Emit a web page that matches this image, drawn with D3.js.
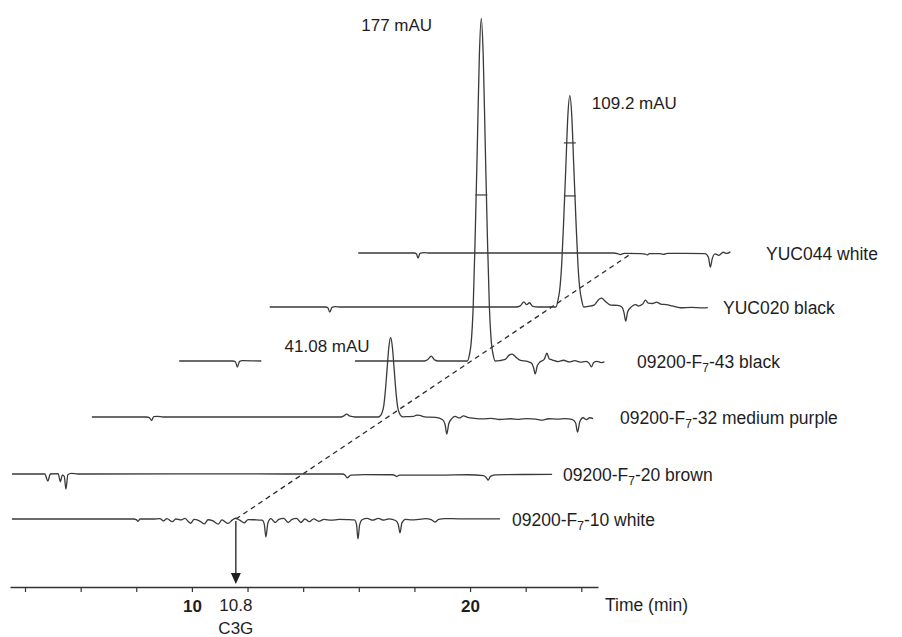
<!DOCTYPE html>
<html>
<head>
<meta charset="utf-8">
<script src="https://cdn.jsdelivr.net/npm/d3@7"></script>
<style>
  html, body { margin: 0; padding: 0; background: #fff; }
  svg { display: block; font-family: Arial, "Liberation Sans", sans-serif; }
  .trace { fill: none; stroke: #3a3a3a; stroke-width: 1.3; stroke-linejoin: round; }
  .label { font-size: 17px; fill: #1e1e1e; }
  .name { font-size: 17.5px; fill: #1e1e1e; }
</style>
</head>
<body>
<svg id="chart" width="902" height="637"></svg>
<script>
// Sample names, bottom trace first.
const sampleNames = [
  '09200-F7-10 white',
  '09200-F7-20 brown',
  '09200-F7-32 medium purple',
  '09200-F7-43 black',
  'YUC020 black',
  'YUC044 white'
];

// Each trace: [time (min), absorbance (mAU)], null = gap in the record.
const traceF7_10 = [
  [3.53, 0], [7.9, 0], [8.0, -0.3], [8.06, -1.2], [8.14, 0], [8.6, 0], [8.85, 0.2], [8.98, -1.0],
  [9.1, 0.2], [9.3, -1.4], [9.42, 0], [9.6, -0.5], [9.75, 0.3], [9.95, -2.2], [10.08, -0.2],
  [10.25, -0.8], [10.45, -2.5], [10.58, -0.4], [10.76, -1.0], [10.95, -2.6], [11.08, -0.5],
  [11.3, -2.3], [11.45, -0.6], [11.58, 0.4], [11.72, -0.6], [11.88, -2.0], [12.02, -0.3],
  [12.25, -0.4], [12.52, -0.6], [12.6, -2.5], [12.66, -9.3], [12.73, -2.2], [12.84, 0.2],
  [13.0, -1.8], [13.12, -0.2], [13.3, 0.3], [13.46, -1.8], [13.6, -0.2], [13.76, 0.3],
  [13.92, -1.8], [14.06, 0], [14.22, -1.4], [14.38, 0.1], [14.56, -1.2], [14.75, -0.2],
  [15.0, -0.6], [15.3, -0.2], [15.6, -0.3], [15.84, -0.5], [15.92, -3.0], [15.97, -10.3],
  [16.03, -3.0], [16.12, -0.4], [16.3, 0.3], [16.5, -0.6], [16.7, 0.3], [16.9, -0.6],
  [17.1, 0.1], [17.32, -0.8], [17.42, -2.8], [17.48, -7.2], [17.55, -2.0], [17.68, -0.2],
  [17.9, -0.5], [18.15, -0.2], [18.4, 0.2], [18.6, -0.3], [18.74, -1.6], [18.87, -0.2],
  [19.1, 0.2], [19.6, 0.1], [21.08, 0.1]
];

const traceF7_20 = [
  [1.12, 0], [2.3, 0], [2.41, -3.6], [2.5, 0], [2.78, 0.2], [2.86, -4.0], [2.93, -0.6],
  [3.0, -1.2], [3.06, -7.8], [3.13, -0.4], [3.25, 0.3], [3.5, 0], [8.0, 0.1], [11.0, 0],
  [13.0, 0], [13.1, -0.6], [13.17, -2.0], [13.3, -0.6], [13.8, -0.3], [14.8, -0.4],
  [14.9, -0.8], [14.96, -1.3], [15.05, -0.6], [16.5, -0.6], [17.5, -0.4], [18.08, -0.8],
  [18.18, -2.0], [18.24, -3.2], [18.32, -1.2], [18.5, -0.5], [18.9, -0.3], [20.54, -0.2]
];

const traceF7_32 = [
  [0.94, 0], [2.9, 0], [3.0, -0.3], [3.09, -1.8], [3.16, 0.2], [3.3, 0.3], [3.5, 0], [9.9, 0],
  [10.0, 0.6], [10.1, 1.5], [10.22, 0.4], [10.4, 0], [11.24, 0], [11.3, 0.5], [11.36, 1.8],
  [11.43, 5.5], [11.49, 13.4], [11.554, 25], [11.617, 36.2], [11.68, 41.08], [11.743, 36.2],
  [11.806, 25], [11.87, 13.4], [11.93, 5.5], [12.0, 1.8], [12.06, 0.5], [12.12, 0.1],
  [12.3, 0.2], [12.5, 0.3], [12.62, 1.0], [12.73, 0.8], [12.9, 0.1], [13.3, -0.2],
  [13.55, -1.4], [13.64, -4.0], [13.7, -8.8], [13.77, -3.5], [13.88, -0.8], [14.0, 0.3],
  [14.15, -0.5], [14.3, 0.6], [14.45, -0.2], [14.7, -0.7], [15.0, -1.0], [15.3, -0.7],
  [15.6, -1.3], [16.0, -0.9], [16.3, -1.2], [16.6, -0.8], [16.9, -1.1], [17.15, -1.6],
  [17.35, -0.9], [17.7, -1.1], [17.95, -0.8], [18.2, -1.2], [18.33, -3.0], [18.4, -7.8],
  [18.48, -2.5], [18.6, -0.4], [18.72, -1.4], [18.84, -0.4], [18.96, -0.8]
];

const traceF7_43 = [
  [1.08, 0], [3.0, 0], [3.1, -0.4], [3.17, -3.1], [3.25, -0.2], [3.35, 0.2], [4.03, 0],
  null,
  [7.4, 0], [9.9, 0], [10.02, 0.8], [10.14, 2.5], [10.26, 0.6], [10.4, 0], [11.44, 0],
  [11.51, 3], [11.58, 10], [11.65, 28.5], [11.72, 64], [11.8, 113], [11.87, 157.6],
  [11.94, 177], [12.01, 157.6], [12.08, 113], [12.16, 64], [12.23, 28.5], [12.3, 10],
  [12.37, 3], [12.44, 0], [12.6, 0.2], [12.8, 0.8], [12.95, 3.2], [13.05, 3.6], [13.18, 2.0],
  [13.35, 0.3], [13.6, -0.2], [13.75, -1.2], [13.82, -3.5], [13.88, -6.7], [13.95, -2.6],
  [14.05, -0.5], [14.2, 0.8], [14.3, 4.0], [14.38, 1.2], [14.5, 0.5], [14.7, -0.3],
  [14.9, 0.4], [15.1, -0.5], [15.3, 0.2], [15.5, -0.6], [15.7, -0.2], [15.82, -1.2],
  [15.9, -3.0], [15.98, -0.8], [16.1, -0.2], [16.25, -0.8], [16.37, -0.4]
];

const traceYUC020 = [
  [1.44, 0], [3.45, 0], [3.53, -0.4], [3.6, -2.6], [3.68, -0.2], [3.8, 0.2], [4.0, 0],
  [10.3, 0], [10.45, 0.6], [10.58, 2.6], [10.68, 1.2], [10.78, 2.2], [10.9, 0.3], [11.1, 0],
  [11.73, 0], [11.8, 3.3], [11.87, 9.3], [11.94, 22.5], [12.01, 44.9], [12.09, 73.6],
  [12.16, 98.9], [12.23, 109.2], [12.3, 98.9], [12.37, 73.6], [12.45, 44.9], [12.52, 22.5],
  [12.59, 9.3], [12.66, 3.3], [12.73, 0], [12.9, 0.3], [13.1, 1.0], [13.28, 4.0],
  [13.38, 4.6], [13.5, 3.0], [13.7, 1.0], [13.95, 0.8], [14.1, 0], [14.18, -3.0],
  [14.24, -7.3], [14.31, -2.5], [14.45, 0.2], [14.6, 1.2], [14.7, 0.5], [14.85, 1.5],
  [14.95, 3.6], [15.05, 2.0], [15.2, 1.8], [15.35, 2.5], [15.5, 1.5], [15.7, 1.2],
  [15.9, 0.6], [16.2, -0.4], [16.6, -0.2], [17.0, -0.5], [17.19, -0.3]
];

const traceYUC044 = [
  [1.73, 0], [3.75, 0], [3.82, -0.4], [3.88, -2.6], [3.95, -0.2], [4.1, 0.2], [4.3, 0],
  [10.9, 0], [11.05, -0.3], [11.15, -0.8], [11.3, -0.2], [11.9, -0.3], [12.05, -0.6],
  [12.12, -1.0], [12.2, -0.3], [12.55, -0.3], [12.7, -0.7], [12.85, -0.2], [13.5, -0.2],
  [14.2, -0.3], [14.32, -2.2], [14.39, -7.3], [14.46, -2.8], [14.56, -0.5], [14.7, -1.2],
  [14.85, 0.4], [14.98, -0.2], [15.11, 0.6]
];

const traces = [traceF7_10, traceF7_20, traceF7_32, traceF7_43, traceYUC020, traceYUC044];

// Labelled peak apexes: trace index, retention time, height.
const peakTrace = [3, 4, 2];
const peakTime = [11.94, 12.23, 11.68];
const peakHeight = [177, 109.2, 41.08];

// Integration marks drawn across the peaks.
const markTrace = [3, 4, 4];
const markTime = [11.94, 12.23, 12.23];
const markLevel = [85.8, 84.8, 57.4];

// C3G retention marker.
const c3gTime = 11.58;
const c3gLabel = '10.8';

const tickValues = [4, 6, 8, 10, 12, 14, 16, 18, 20, 22, 24];

// Layout.
const axisY = 587;
const baseY = [519, 474, 417, 361, 307, 253];
const skew = 1.49;
const labelX = [512, 563, 620, 637, 723, 766];
const peakLabelDx = [-120, 22, -106];
const peakLabelDy = [7, 7, 9];

const svg = d3.select('#chart');

const x = d3.scaleLinear().domain([3.46, 24.6]).range([10, 598]);
const y = d3.scaleLinear().domain([0, 177]).range([0, -342.5]);

let shiftX = i => (baseY[0] - baseY[i]) * skew;

let line = d3.line()
  .defined(d => d !== null)
  .x(d => x(d[0]))
  .y(d => y(d[1]))
  .curve(d3.curveMonotoneX);

function addName(text, name) {
  let m = name.match(/^(\d+-F)(\d)(-.*)$/);
  if (!m) {
    text.text(name);
    return;
  }
  text.append('tspan').text(m[1]);
  text.append('tspan').attr('font-size', '12px').attr('dy', 4).text(m[2]);
  text.append('tspan').attr('dy', -4).text(m[3]);
}

// Dashed line linking C3G across the traces (drawn first, under the traces).
svg.append('line')
  .attr('x1', x(c3gTime) + shiftX(0))
  .attr('y1', baseY[0])
  .attr('x2', x(c3gTime) + shiftX(5))
  .attr('y2', baseY[5])
  .attr('stroke', '#2a2a2a')
  .attr('stroke-width', 1.3)
  .attr('stroke-dasharray', '5,4');

traces.forEach((trace, i) => {
  let g = svg.append('g')
    .attr('transform', `translate(${shiftX(i)},${baseY[i]})`);
  g.append('path')
    .attr('class', 'trace')
    .attr('d', line(trace));

  let label = svg.append('text')
    .attr('class', 'name')
    .attr('x', labelX[i])
    .attr('y', baseY[i])
    .attr('dy', '0.4em');
  addName(label, sampleNames[i]);
});

// Half-height marks on the peaks.
markTrace.forEach((t, k) => {
  let cx = x(markTime[k]) + shiftX(t);
  let cy = baseY[t] + y(markLevel[k]);
  svg.append('line')
    .attr('x1', cx - 6).attr('x2', cx + 6)
    .attr('y1', cy).attr('y2', cy)
    .attr('stroke', '#3a3a3a')
    .attr('stroke-width', 1.2);
});

// Peak height labels.
peakTrace.forEach((t, k) => {
  svg.append('text')
    .attr('class', 'label')
    .attr('x', x(peakTime[k]) + shiftX(t) + peakLabelDx[k])
    .attr('y', baseY[t] + y(peakHeight[k]) + peakLabelDy[k])
    .attr('dy', '0.35em')
    .text(`${peakHeight[k]} mAU`);
});

// Time axis.
let axis = svg.append('g')
  .attr('transform', `translate(0,${axisY})`)
  .call(d3.axisBottom(x)
    .tickValues(tickValues)
    .tickSize(5)
    .tickSizeOuter(0)
    .tickPadding(8)
    .tickFormat(d => d % 10 === 0 ? d : ''));

axis.select('.domain').attr('stroke', '#333').attr('stroke-width', 1.3);
axis.selectAll('.tick line').attr('stroke', '#333').attr('stroke-width', 1.2);
axis.selectAll('.tick text')
  .attr('font-family', 'Arial, "Liberation Sans", sans-serif')
  .attr('font-size', '17px')
  .attr('font-weight', 'bold')
  .attr('fill', '#1e1e1e');

svg.append('text')
  .attr('class', 'name')
  .attr('x', 605)
  .attr('y', axisY + 18)
  .attr('dy', '0.35em')
  .text('Time (min)');

// C3G arrow.
let ax = x(c3gTime);
svg.append('line')
  .attr('x1', ax).attr('x2', ax)
  .attr('y1', baseY[0] + 2).attr('y2', axisY - 12)
  .attr('stroke', '#1e1e1e')
  .attr('stroke-width', 1.3);

svg.append('path')
  .attr('d', `M${ax - 5},${axisY - 14}L${ax + 5},${axisY - 14}L${ax},${axisY - 3}Z`)
  .attr('fill', '#1e1e1e');

svg.append('text')
  .attr('class', 'label')
  .attr('x', ax)
  .attr('y', axisY + 18)
  .attr('dy', '0.35em')
  .attr('text-anchor', 'middle')
  .text(c3gLabel);

svg.append('text')
  .attr('class', 'label')
  .attr('x', ax)
  .attr('y', axisY + 41)
  .attr('dy', '0.35em')
  .attr('text-anchor', 'middle')
  .text('C3G');
</script>
</body>
</html>
